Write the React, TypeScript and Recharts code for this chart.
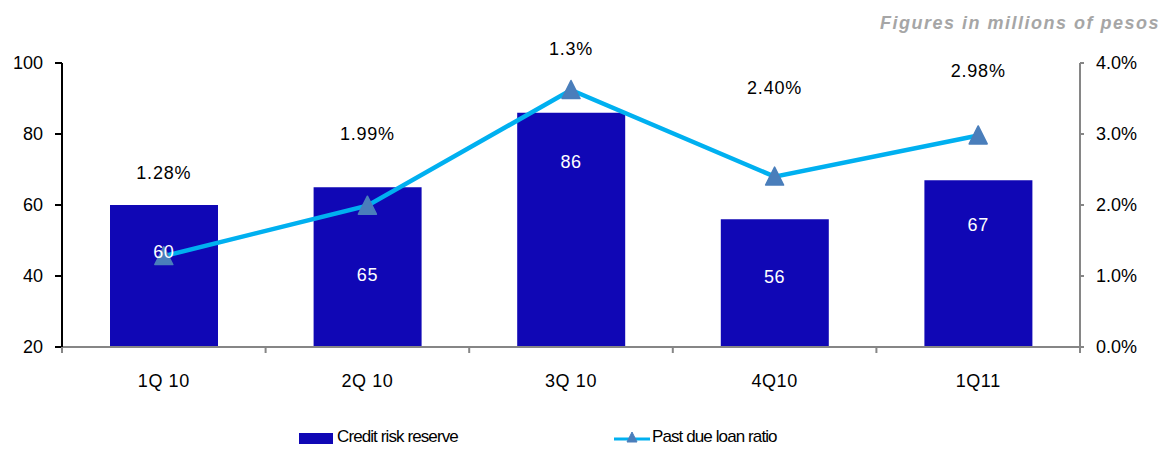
import React from "react";
import {
  ComposedChart,
  Bar,
  Line,
  XAxis,
  YAxis,
  LabelList,
  Legend,
} from "recharts";

const quarters = ["1Q 10", "2Q 10", "3Q 10", "4Q10", "1Q11"];
const creditRiskReserve = [60, 65, 86, 56, 67];
const pastDueRatio = [1.28, 1.99, 3.62, 2.4, 2.98];
const pastDueLabels = ["1.28%", "1.99%", "1.3%", "2.40%", "2.98%"];
// label anchor heights, in axis units
const reserveLabelAnchor = [47.0, 40.3, 72.1, 39.7, 54.4];
const ratioLabelAnchor = [2.45, 3.0, 4.2, 3.66, 3.89];
const leftTicks = [20, 40, 60, 80, 100];
const rightTicks = [0, 1, 2, 3, 4];

const data = quarters.map((q, i) => ({
  q,
  reserve: creditRiskReserve[i],
  ratio: pastDueRatio[i],
  ratioLabel: pastDueLabels[i],
  reserveAnchor: reserveLabelAnchor[i],
  ratioAnchor: ratioLabelAnchor[i],
}));

const FONT = "'Liberation Sans', Arial, sans-serif";
const BAR_COLOR = "#1007b5";
const LINE_COLOR = "#00b0f0";
const MARKER_COLOR = "#4a7ebb";

const Triangle = (props: any) => {
  const { cx, cy } = props;
  if (cx == null || cy == null) return null;
  const w = 18;
  const h = 17;
  return (
    <path
      d={`M${cx},${cy - h / 2 - 1} L${cx + w / 2},${cy + h / 2} L${cx - w / 2},${cy + h / 2} Z`}
      fill={MARKER_COLOR}
      stroke={MARKER_COLOR}
      strokeLinejoin="round"
      strokeWidth={1.5}
    />
  );
};

const XTick = (props: any) => {
  const { x, y, payload, index } = props;
  const half = 101.8;
  return (
    <g>
      <line x1={x - half} x2={x - half} y1={y - 8} y2={y - 2} stroke="#868686" strokeWidth={2} />
      {index === quarters.length - 1 && (
        <line x1={x + half} x2={x + half} y1={y - 8} y2={y - 2} stroke="#868686" strokeWidth={2} />
      )}
      <text
        x={x}
        y={y + 32}
        textAnchor="middle"
        fontSize={18}
        letterSpacing={0.6}
        fontFamily={FONT}
        fill="#000"
      >
        {payload.value}
      </text>
    </g>
  );
};

const LegendContent = () => (
  <div style={{ position: "relative", height: 20, fontFamily: FONT, fontSize: 16, color: "#000" }}>
    <div style={{ position: "absolute", left: 299, top: 14, width: 34, height: 11, background: BAR_COLOR }} />
    <div style={{ position: "absolute", left: 337, top: 8, fontSize: 17, letterSpacing: "-0.9px" }}>
      Credit risk reserve
    </div>
    <svg style={{ position: "absolute", left: 613, top: 10 }} width={38} height={18}>
      <line x1={1} x2={37} y1={10} y2={10} stroke={LINE_COLOR} strokeWidth={3} />
      <path d="M19,3 L24,13 L14,13 Z" fill={MARKER_COLOR} stroke={MARKER_COLOR} strokeLinejoin="round" />
    </svg>
    <div style={{ position: "absolute", left: 652, top: 8, fontSize: 17, letterSpacing: "-0.9px" }}>
      Past due loan ratio
    </div>
  </div>
);

export default function App() {
  return (
    <div style={{ position: "absolute", left: 0, top: 0, width: 1169, height: 449, background: "#fff" }}>
      <div
        style={{
          position: "absolute",
          right: 9,
          top: 13,
          fontFamily: FONT,
          fontSize: 18,
          letterSpacing: "1.5px",
          fontWeight: "bold",
          fontStyle: "italic",
          color: "#a6a6a6",
        }}
      >
        Figures in millions of pesos
      </div>
      <ComposedChart
        width={1169}
        height={449}
        data={data}
        margin={{ top: 63, right: 0, left: 0, bottom: 4 }}
        barCategoryGap={0}
      >
        <XAxis
          dataKey="q"
          xAxisId="x"
          axisLine={{ stroke: "#868686", strokeWidth: 2 }}
          tickLine={false}
          tick={<XTick />}
          interval={0}
          height={72}
        />
        <YAxis
          yAxisId="left"
          orientation="left"
          domain={[20, 100]}
          ticks={leftTicks}
          width={62}
          axisLine={{ stroke: "#000", strokeWidth: 2 }}
          tickLine={{ stroke: "#000", strokeWidth: 2 }}
          tickSize={7}
          tick={{ fontSize: 18, fontFamily: FONT, fill: "#000" }}
          tickMargin={12}
        />
        <YAxis
          yAxisId="right"
          orientation="right"
          domain={[0, 4]}
          allowDataOverflow
          ticks={rightTicks}
          width={89}
          axisLine={{ stroke: "#868686", strokeWidth: 2 }}
          tickLine={{ stroke: "#868686", strokeWidth: 2 }}
          tickSize={4}
          tick={{ fontSize: 18, fontFamily: FONT, fill: "#000" }}
          tickMargin={12}
          tickFormatter={(v: number) => `${v.toFixed(1)}%`}
        />
        <Legend verticalAlign="bottom" content={<LegendContent />} height={26} />
        <Bar
          dataKey="reserve"
          name="Credit risk reserve"
          xAxisId="x"
          yAxisId="left"
          fill={BAR_COLOR}
          barSize={108}
          isAnimationActive={false}
        />
        <Line
          dataKey="ratio"
          name="Past due loan ratio"
          xAxisId="x"
          yAxisId="right"
          stroke={LINE_COLOR}
          strokeWidth={4.5}
          dot={<Triangle />}
          activeDot={false}
          isAnimationActive={false}
        />
        <Line
          dataKey="reserveAnchor"
          xAxisId="x"
          yAxisId="left"
          stroke="none"
          dot={false}
          activeDot={false}
          legendType="none"
          isAnimationActive={false}
        >
          <LabelList
            dataKey="reserve"
            position="center"
            fill="#fff"
            fontSize={18}
            letterSpacing={0.6}
            fontFamily={FONT}
          />
        </Line>
        <Line
          dataKey="ratioAnchor"
          xAxisId="x"
          yAxisId="right"
          stroke="none"
          dot={false}
          activeDot={false}
          legendType="none"
          isAnimationActive={false}
        >
          <LabelList
            dataKey="ratioLabel"
            position="center"
            fill="#000"
            fontSize={18}
            letterSpacing={0.8}
            fontFamily={FONT}
          />
        </Line>
      </ComposedChart>
    </div>
  );
}
